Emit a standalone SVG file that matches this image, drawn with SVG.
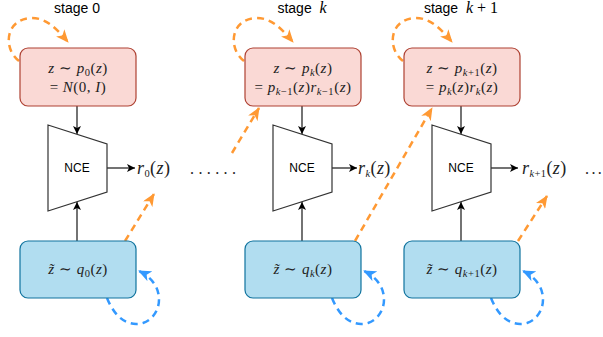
<svg xmlns="http://www.w3.org/2000/svg" width="603" height="337" viewBox="0 0 603 337">
<defs>
<style>
.lbl{font-family:"Liberation Sans",Arial,sans-serif;font-size:14px;fill:#000;text-anchor:middle}
.nce{font-family:"Liberation Sans",Arial,sans-serif;font-size:12px;fill:#000;text-anchor:middle}
.m{font-family:"Liberation Serif","Times New Roman",serif;font-size:15px;fill:#222;text-anchor:middle;letter-spacing:0.5px}
.r{font-family:"Liberation Serif","Times New Roman",serif;font-size:18px;fill:#222;letter-spacing:0.4px}
.i{font-style:italic}
.sb{font-size:10.5px}
.pink{fill:#fad9d5;stroke:#ae4132;stroke-width:1.2}
.blue{fill:#b1ddf0;stroke:#10739e;stroke-width:1.2}
.trap{fill:#fff;stroke:#333;stroke-width:1.2}
.ar{fill:none;stroke:#000;stroke-width:1.1;marker-end:url(#ak)}
.od{fill:none;stroke:#ff9933;stroke-width:2.5;stroke-dasharray:7 5;marker-end:url(#ao)}
.bd{fill:none;stroke:#3399ff;stroke-width:2.5;stroke-dasharray:7 5;marker-end:url(#ab)}
.dots{font-family:"Liberation Serif",serif;font-size:16px;fill:#222;letter-spacing:4.4px}
</style>
<marker id="ak" viewBox="0 0 8 8" refX="8" refY="4" markerWidth="8" markerHeight="8" markerUnits="userSpaceOnUse" orient="auto"><path d="M0,0 L8,4 L0,8 L2,4 z" fill="#000"/></marker>
<marker id="ao" viewBox="0 0 13 11" refX="12" refY="5.5" markerWidth="13" markerHeight="11" markerUnits="userSpaceOnUse" orient="auto"><path d="M0,0 L13,5.5 L0,11 L3.5,5.5 z" fill="#ff9933"/></marker>
<marker id="ab" viewBox="0 0 13 11" refX="12" refY="5.5" markerWidth="13" markerHeight="11" markerUnits="userSpaceOnUse" orient="auto"><path d="M0,0 L13,5.5 L0,11 L3.5,5.5 z" fill="#3399ff"/></marker>
</defs>

<g id="labels">
<text class="lbl" x="77" y="13">stage 0</text>
<text class="lbl" x="302" y="13">stage&#160; <tspan class="i" font-family="Liberation Serif,serif" font-size="16">k</tspan></text>
<text class="lbl" x="461" y="13">stage&#160; <tspan class="i" font-family="Liberation Serif,serif" font-size="16">k</tspan><tspan font-family="Liberation Serif,serif" font-size="16"> + 1</tspan></text>
</g>

<g id="connectors">
<path class="ar" d="M77,106 L77,134"/>
<path class="ar" d="M77,241 L77,202"/>
<path class="ar" d="M107,168 L135,168"/>
<path class="ar" d="M302,106 L302,134"/>
<path class="ar" d="M302,241 L302,202"/>
<path class="ar" d="M332,168 L357,168"/>
<path class="ar" d="M461,106 L461,134"/>
<path class="ar" d="M461,241 L461,202"/>
<path class="ar" d="M491,168 L518,168"/>
<path class="od" d="M19,61 C2,48 6,18 32,18 C46,18 56,28 68,42"/>
<path class="od" d="M244,61 C227,48 231,18 257,18 C271,18 281,28 293,42"/>
<path class="od" d="M403,61 C386,48 390,18 416,18 C430,18 440,28 452,42"/>
<path class="od" d="M125,241 L154,194"/>
<path class="od" d="M232,153 L259,108"/>
<path class="od" d="M355,241 L432,108"/>
<path class="od" d="M518,241 L547,196"/>
<path class="bd" d="M107,298 C115,318 128,327 143,323 C162,317 168,285 139,271"/>
<path class="bd" d="M332,298 C340,318 353,327 368,323 C387,317 393,285 364,271"/>
<path class="bd" d="M491,298 C499,318 512,327 527,323 C546,317 552,285 523,271"/>
</g>

<g id="stage0-p">
<rect class="pink" x="20" y="48" width="116" height="58" rx="8"/>
<text class="m" x="78" y="73"><tspan class="i">z</tspan> ∼ <tspan class="i">p</tspan><tspan class="sb" dy="3">0</tspan><tspan dy="-3">(</tspan><tspan class="i">z</tspan>)</text>
<text class="m" x="78" y="92">= <tspan class="i">N</tspan>(0, <tspan class="i">I</tspan>)</text>
</g>
<g id="stage0-nce">
<polygon class="trap" points="48,125 107,144 107,192 48,211"/>
<text class="nce" x="77" y="172">NCE</text>
</g>
<g id="stage0-r"><text class="r" x="137" y="174"><tspan class="i">r</tspan><tspan class="sb" font-size="12" dy="3">0</tspan><tspan dy="-3">(</tspan><tspan class="i">z</tspan>)</text></g>
<g id="stage0-q">
<rect class="blue" x="20" y="241" width="116" height="57" rx="8"/>
<text class="m" x="78" y="274"><tspan class="i">z̃</tspan> ∼ <tspan class="i">q</tspan><tspan class="sb" dy="3">0</tspan><tspan dy="-3">(</tspan><tspan class="i">z</tspan>)</text>
</g>

<g id="dots1"><text class="dots" x="190" y="174">......</text></g>

<g id="stagek-p">
<rect class="pink" x="245" y="48" width="116" height="58" rx="8"/>
<text class="m" x="303" y="73"><tspan class="i">z</tspan> ∼ <tspan class="i">p</tspan><tspan class="sb i" dy="3">k</tspan><tspan dy="-3">(</tspan><tspan class="i">z</tspan>)</text>
<text class="m" x="303" y="92">= <tspan class="i">p</tspan><tspan class="sb i" dy="3">k</tspan><tspan class="sb">−1</tspan><tspan dy="-3">(</tspan><tspan class="i">z</tspan>)<tspan class="i">r</tspan><tspan class="sb i" dy="3">k</tspan><tspan class="sb">−1</tspan><tspan dy="-3">(</tspan><tspan class="i">z</tspan>)</text>
</g>
<g id="stagek-nce">
<polygon class="trap" points="273,125 332,144 332,192 273,211"/>
<text class="nce" x="302" y="172">NCE</text>
</g>
<g id="stagek-r"><text class="r" x="358" y="174"><tspan class="i">r</tspan><tspan class="sb i" font-size="12" dy="3">k</tspan><tspan dy="-3">(</tspan><tspan class="i">z</tspan>)</text></g>
<g id="stagek-q">
<rect class="blue" x="245" y="241" width="116" height="57" rx="8"/>
<text class="m" x="303" y="274"><tspan class="i">z̃</tspan> ∼ <tspan class="i">q</tspan><tspan class="sb i" dy="3">k</tspan><tspan dy="-3">(</tspan><tspan class="i">z</tspan>)</text>
</g>

<g id="stagek1-p">
<rect class="pink" x="404" y="48" width="116" height="58" rx="8"/>
<text class="m" x="462" y="73"><tspan class="i">z</tspan> ∼ <tspan class="i">p</tspan><tspan class="sb i" dy="3">k</tspan><tspan class="sb">+1</tspan><tspan dy="-3">(</tspan><tspan class="i">z</tspan>)</text>
<text class="m" x="462" y="92">= <tspan class="i">p</tspan><tspan class="sb i" dy="3">k</tspan><tspan dy="-3">(</tspan><tspan class="i">z</tspan>)<tspan class="i">r</tspan><tspan class="sb i" dy="3">k</tspan><tspan dy="-3">(</tspan><tspan class="i">z</tspan>)</text>
</g>
<g id="stagek1-nce">
<polygon class="trap" points="432,125 491,144 491,192 432,211"/>
<text class="nce" x="461" y="172">NCE</text>
</g>
<g id="stagek1-r"><text class="r" x="522" y="174"><tspan class="i">r</tspan><tspan class="sb i" font-size="12" dy="3">k</tspan><tspan class="sb" font-size="12">+1</tspan><tspan dy="-3">(</tspan><tspan class="i">z</tspan>)</text></g>
<g id="stagek1-q">
<rect class="blue" x="404" y="241" width="116" height="57" rx="8"/>
<text class="m" x="462" y="274"><tspan class="i">z̃</tspan> ∼ <tspan class="i">q</tspan><tspan class="sb i" dy="3">k</tspan><tspan class="sb">+1</tspan><tspan dy="-3">(</tspan><tspan class="i">z</tspan>)</text>
</g>

<g id="dots2"><text class="dots" x="585" y="174" style="letter-spacing:2.4px">...</text></g>
</svg>
